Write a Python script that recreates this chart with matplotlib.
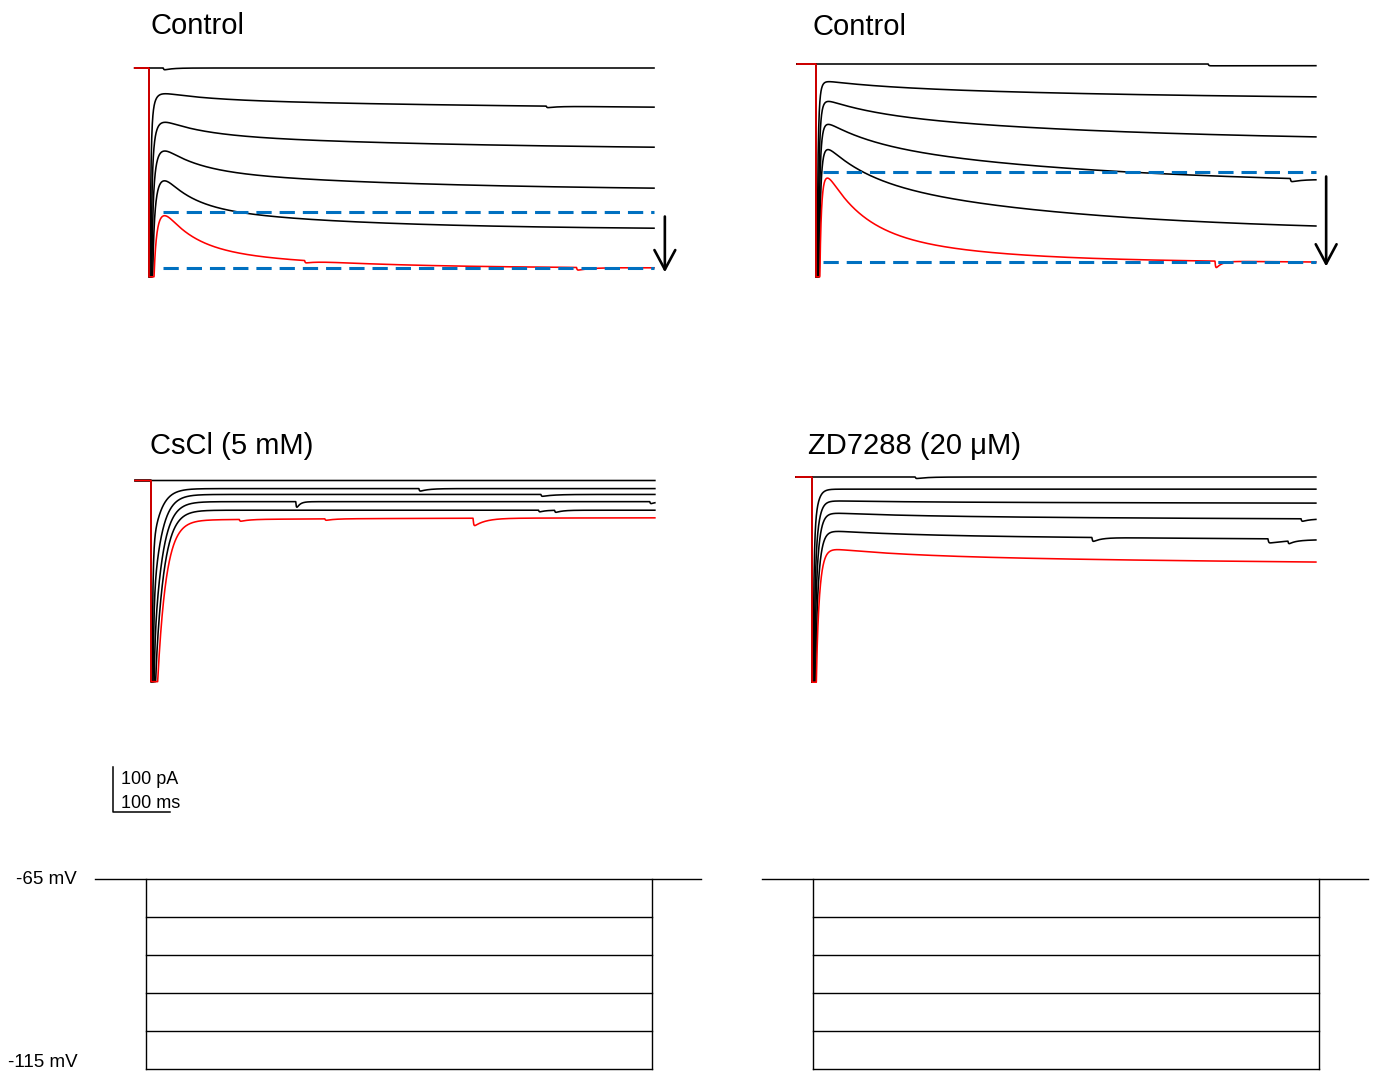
import matplotlib
matplotlib.use("Agg")
import matplotlib.pyplot as plt
import numpy as np

W, H, DPI = 1374, 1072, 100

# drawing scale: pixels per unit
PX_PER_MS = 0.57
PX_PER_PA = 0.45
PX_PER_MV = 3.8

PROTOCOL_MS = 887
HOLDING_MV = -65
STEP_LEVELS_MV = [-65, -75, -85, -95, -105, -115]

# fast capacitive component shared by all panels (largest step)
FAST_CAP_PA = 5000
FAST_CAP_TAU = 1.5
RISE_MS = 6.0

# Control (first cell): current at sag peak / end of step, pA
CTRL1_PEAK = [0, -56, -118, -180, -244, -320]
CTRL1_END = [0, -87, -176, -267, -356, -444]
CTRL1_W = [0, 0.35, 0.45, 0.5, 0.55, 0.6]
CTRL1_TF = [50, 80, 70, 60, 50, 50]
CTRL1_TS = [300, 700, 500, 400, 300, 220]
CTRL1_EVENTS = [(0, 25, 5, 15), (1, 697, 4, 20), (5, 273, 6, 20), (5, 750, 7, 25)]

# Control (second cell)
CTRL2_PEAK = [0, -38, -80, -129, -182, -240]
CTRL2_END = [0, -73, -162, -256, -360, -440]
CTRL2_W = [0, 0.25, 0.3, 0.3, 0.35, 0.6]
CTRL2_TF = [60, 100, 90, 80, 70, 60]
CTRL2_TS = [300, 550, 500, 450, 400, 220]
CTRL2_EVENTS = [(0, 688, 4, 3000), (3, 832, 8, 25), (5, 700, 20, 10)]

# CsCl 5 mM
CSCL_PEAK = [0, -18, -31, -47, -66, -88]
CSCL_END = [0, -18, -31, -47, -66, -83]
CSCL_W = [0, 0, 0, 0, 0, 0]
CSCL_TF = [50] * 6
CSCL_TS = [400] * 6
CSCL_EVENTS = [(1, 470, 7, 15), (2, 684, 5, 20), (3, 254, 20, 6), (3, 875, 6, 10),
               (4, 680, 5, 10), (4, 708, 6, 12), (5, 155, 5, 15), (5, 305, 4, 15),
               (5, 565, 20, 20)]

# ZD7288 20 uM
ZD_PEAK = [0, -27, -53, -80, -120, -160]
ZD_END = [0, -27, -58, -93, -138, -189]
ZD_W = [0, 0.35, 0.35, 0.35, 0.35, 0.35]
ZD_TF = [150] * 6
ZD_TS = [1500] * 6
ZD_EVENTS = [(0, 181, 4, 20), (3, 858, 7, 15), (4, 491, 11, 15), (4, 800, 10, 50),
             (4, 835, 8, 10)]

BLUE = "#0070C0"
RED = "#FF0000"

plt.rcParams["font.family"] = ["Liberation Sans", "DejaVu Sans"]


def place_axes(fig, anchor_px, anchor_data, xlim, ylim, sx, sy):
    """Axes whose data point anchor_data sits at pixel anchor_px (y measured from top)."""
    ax_px, ay_px = anchor_px
    dx, dy = anchor_data
    left = ax_px + (xlim[0] - dx) * sx
    right = ax_px + (xlim[1] - dx) * sx
    top = ay_px - (ylim[1] - dy) * sy
    bottom = ay_px - (ylim[0] - dy) * sy
    ax = fig.add_axes([left / W, 1 - bottom / H, (right - left) / W, (bottom - top) / H])
    ax.set_xlim(xlim)
    ax.set_ylim(ylim)
    ax.axis("off")
    return ax


def step_current(t, k, panel):
    peak, end = panel["peak"][k], panel["end"][k]
    w, tf, ts = panel["w"][k], panel["tf"][k], panel["ts"][k]
    scale = (HOLDING_MV - STEP_LEVELS_MV[k]) / (HOLDING_MV - STEP_LEVELS_MV[-1])

    def decay(tt):
        s = RISE_MS * np.log1p(np.exp((tt - panel["t_peak"]) / RISE_MS))
        return w * np.exp(-s / tf) + (1 - w) * np.exp(-s / ts)

    h_end = decay(np.array(panel["dur"], dtype=float))
    g = (decay(t) - h_end) / (1 - h_end)
    i = end + (peak - end) * g
    i -= scale * (FAST_CAP_PA * np.exp(-t / FAST_CAP_TAU)
                  + panel["cap_amp"] * np.exp(-t / panel["cap_tau"]))
    for trace, t0, amp, tau in panel["events"]:
        if trace == k:
            dt = np.clip(t - t0, 0, None)
            i -= amp * (1 - np.exp(-dt / 1.0)) * np.exp(-dt / tau)
    return np.maximum(i, panel["floor"])


def draw_panel(fig, panel):
    ax = place_axes(fig, panel["origin"], (0, 0), (-45, 940), (-500, 25),
                    PX_PER_MS, PX_PER_PA)
    t_step = np.linspace(0, panel["dur"], 3500)
    t = np.concatenate([[-panel["pre"], 0], t_step])
    for k in range(len(STEP_LEVELS_MV)):
        i = np.concatenate([[0, 0], step_current(t_step, k, panel)])
        red = k == len(STEP_LEVELS_MV) - 1
        ax.plot(t, i, color=RED if red else "black", lw=1.15, zorder=3 if red else 2)
    if panel.get("dash_start") is not None:
        for level in (panel["peak"][-1], panel["end"][-1]):
            ax.plot([panel["dash_start"], panel["dur"]], [level, level], color=BLUE,
                    lw=2.2, dashes=(5, 2.6), zorder=4)
        ax.annotate("", xy=(panel["arrow_t"], panel["end"][-1] - 10),
                    xytext=(panel["arrow_t"], panel["peak"][-1] - 10),
                    arrowprops=dict(arrowstyle="->,head_length=1.4,head_width=0.75",
                                    lw=1.9, color="black", shrinkA=0, shrinkB=0))
    return ax


def draw_protocol(fig, x_step_px):
    ax = place_axes(fig, (x_step_px, 879), (0, HOLDING_MV), (-130, 990), (-117, -60),
                    PX_PER_MS, PX_PER_MV)
    ax.plot([-89, 974], [HOLDING_MV, HOLDING_MV], color="black", lw=1.0)
    ax.plot([0, 0], [HOLDING_MV, STEP_LEVELS_MV[-1]], color="black", lw=1.0)
    ax.plot([PROTOCOL_MS, PROTOCOL_MS], [HOLDING_MV, STEP_LEVELS_MV[-1]], color="black", lw=1.0)
    for level in STEP_LEVELS_MV[1:]:
        ax.plot([0, PROTOCOL_MS], [level, level], color="black", lw=1.0)
    return ax


fig = plt.figure(figsize=(W / DPI, H / DPI), dpi=DPI)

panels = [
    dict(origin=(149, 68), pre=25, dur=886, floor=-464, t_peak=30, cap_amp=760, cap_tau=5.0,
         peak=CTRL1_PEAK, end=CTRL1_END, w=CTRL1_W, tf=CTRL1_TF, ts=CTRL1_TS,
         events=CTRL1_EVENTS, dash_start=25, arrow_t=905,
         title="Control", title_px=(151, 34)),
    dict(origin=(816, 64), pre=33, dur=877, floor=-473, t_peak=20, cap_amp=1200, cap_tau=3.5,
         peak=CTRL2_PEAK, end=CTRL2_END, w=CTRL2_W, tf=CTRL2_TF, ts=CTRL2_TS,
         events=CTRL2_EVENTS, dash_start=12, arrow_t=895,
         title="Control", title_px=(812, 35)),
    dict(origin=(151, 480.5), pre=28, dur=884, floor=-447, t_peak=40, cap_amp=780, cap_tau=15.0,
         peak=CSCL_PEAK, end=CSCL_END, w=CSCL_W, tf=CSCL_TF, ts=CSCL_TS,
         events=CSCL_EVENTS, dash_start=None, title="CsCl (5 mM)", title_px=(150, 454)),
    dict(origin=(812, 477), pre=28, dur=884, floor=-456, t_peak=40, cap_amp=938, cap_tau=6.0,
         peak=ZD_PEAK, end=ZD_END, w=ZD_W, tf=ZD_TF, ts=ZD_TS,
         events=ZD_EVENTS, dash_start=None, title="ZD7288 (20 \u03bcM)", title_px=(808, 454)),
]

for panel in panels:
    draw_panel(fig, panel)
    x, y = panel["title_px"]
    fig.text(x / W, 1 - y / H, panel["title"], fontsize=21, va="baseline", ha="left")

# scale bar: 100 pA / 100 ms
bar = place_axes(fig, (113, 812), (0, 0), (-5, 130), (-5, 110), PX_PER_MS, PX_PER_PA)
bar.plot([0, 0, 100], [100, 0, 0], color="black", lw=1.1)
bar.text(14, 73, "100 pA", fontsize=13, va="center", ha="left")
bar.text(14, 19, "100 ms", fontsize=13, va="center", ha="left")

left_protocol = draw_protocol(fig, 146)
draw_protocol(fig, 813)
left_protocol.text(-121, HOLDING_MV, "-65 mV", fontsize=13.5, ha="right", va="center")
left_protocol.text(-120, -113.2, "-115 mV", fontsize=13.5, ha="right", va="center")

fig.savefig("out.png", dpi=DPI)
